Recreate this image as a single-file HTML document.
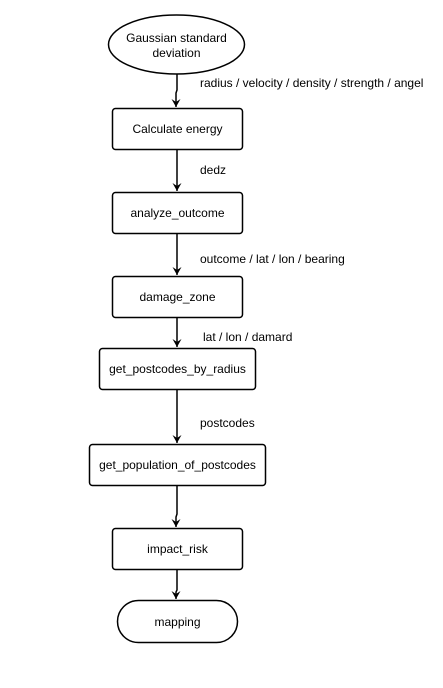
<!DOCTYPE html>
<html><head><style>
html,body{margin:0;padding:0;background:#fff;}
svg text{font-family:"Liberation Sans",Arial,sans-serif;font-size:12px;fill:#000;}
</style></head><body>
<svg width="443" height="683" viewBox="0 0 443 683" xmlns="http://www.w3.org/2000/svg">
<defs>
<marker id="a" markerWidth="10" markerHeight="10" refX="8" refY="5" orient="auto" markerUnits="userSpaceOnUse">
<path d="M0,0.5 L8,5 L0,9.5 L3,5 Z" fill="#000"/>
</marker>
</defs>
<g stroke="#000" stroke-width="1.5" fill="#fff">
<ellipse cx="176.5" cy="44.5" rx="68" ry="29.5"/>
<rect x="112.5" y="108.5" width="130" height="41" rx="3"/>
<rect x="112.5" y="192.5" width="130" height="41" rx="3"/>
<rect x="112.5" y="276.5" width="130" height="41" rx="3"/>
<rect x="99.5" y="348.5" width="156" height="41" rx="3"/>
<rect x="89.5" y="444.5" width="176" height="41" rx="3"/>
<rect x="112.5" y="528.5" width="130" height="41" rx="3"/>
<rect x="117.5" y="600.5" width="120" height="42" rx="21"/>
</g>
<g stroke="#000" stroke-width="1.5" fill="none" marker-end="url(#a)">
<path d="M177,74 V90 L176,93 V107"/>
<path d="M177,150 V191"/>
<path d="M177,234 V275"/>
<path d="M177,318 V347"/>
<path d="M177,390 V443"/>
<path d="M177,486 V514 L176,517 V527"/>
<path d="M177,570 V590 L176,592 V599"/>
</g>
<text x="176.5" y="42" text-anchor="middle">Gaussian standard</text>
<text x="176.5" y="57" text-anchor="middle">deviation</text>
<text x="177.5" y="133" text-anchor="middle">Calculate energy</text>
<text x="177.5" y="217" text-anchor="middle">analyze_outcome</text>
<text x="177.5" y="301" text-anchor="middle">damage_zone</text>
<text x="177.5" y="373" text-anchor="middle">get_postcodes_by_radius</text>
<text x="177.5" y="469" text-anchor="middle">get_population_of_postcodes</text>
<text x="177.5" y="553" text-anchor="middle">impact_risk</text>
<text x="177.5" y="626" text-anchor="middle">mapping</text>
<text x="200" y="87">radius / velocity / density / strength / angel</text>
<text x="200" y="174">dedz</text>
<text x="200" y="263">outcome / lat / lon / bearing</text>
<text x="203" y="341">lat / lon / damard</text>
<text x="200" y="427">postcodes</text>
</svg>
</body></html>
